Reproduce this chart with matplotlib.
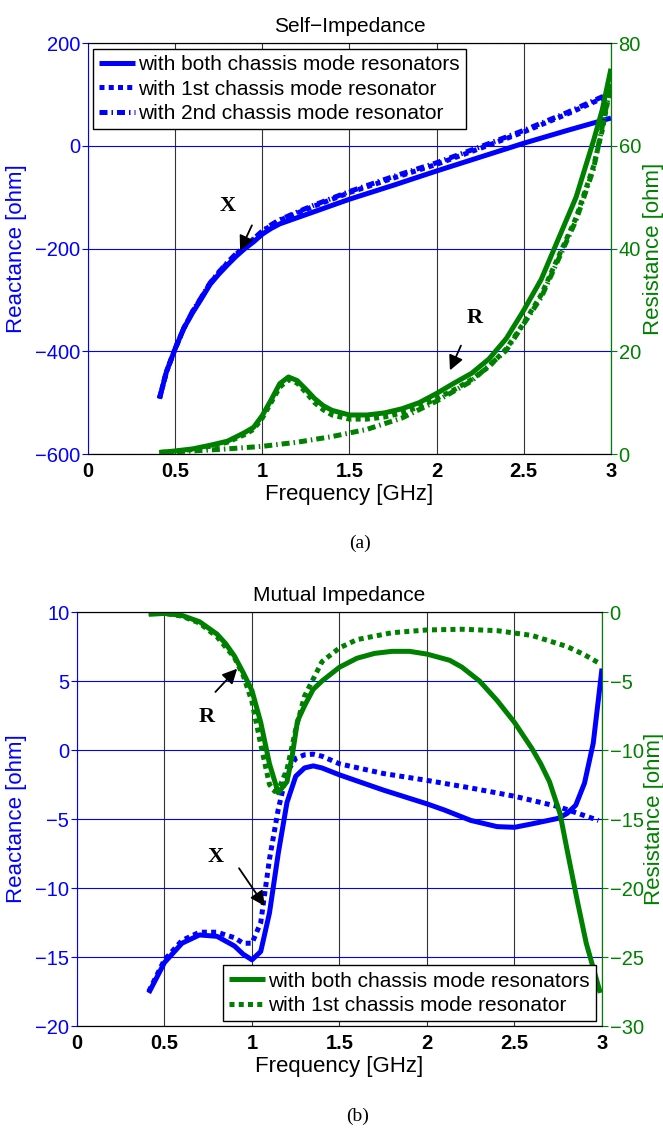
import matplotlib
matplotlib.use('Agg')
import matplotlib.pyplot as plt

plt.rcParams['font.family'] = 'Liberation Sans'

BLUE = '#0000ff'
GREEN = '#008000'

# ---------------- data: self impedance (a) ----------------
f_self_x = [0.41, 0.45, 0.5, 0.55, 0.6, 0.65, 0.7, 0.75, 0.8, 0.85, 0.9, 0.95, 1.0, 1.05,
            1.1, 1.2, 1.3, 1.4, 1.5, 1.75, 2.0, 2.25, 2.5, 2.75, 3.0]
x_self_both = [-492, -440, -395, -355, -325, -298, -270, -250, -232, -215, -200, -187, -172, -161,
               -152, -140, -128, -116, -104, -77, -49, -22, 5, 30, 54]
x_self_1st = [-492, -440, -395, -355, -323, -296, -268, -247, -228, -211, -196, -182, -167, -155,
              -145, -131, -117, -104, -91, -63, -36, -5, 27, 62, 100]
x_self_2nd = [-492, -440, -395, -355, -322, -295, -267, -246, -227, -210, -195, -181, -166, -154,
              -144, -129, -115, -102, -89, -60, -33, -2, 30, 65, 103]

f_self_r = [0.41, 0.5, 0.6, 0.7, 0.8, 0.9, 0.95, 1.0, 1.05, 1.1, 1.15, 1.2, 1.25, 1.3, 1.35, 1.4,
            1.5, 1.6, 1.7, 1.8, 1.9, 2.0, 2.1, 2.2, 2.3, 2.4, 2.5, 2.6, 2.7, 2.8, 2.9, 2.95, 3.0]
r_self_both = [0.3, 0.6, 1.0, 1.7, 2.5, 4.2, 5.2, 7.5, 10.5, 13.7, 15.0, 14.3, 12.6, 10.8, 9.4, 8.5,
               7.6, 7.6, 8.0, 8.8, 10.0, 11.8, 13.8, 15.7, 18.5, 22.5, 28, 34, 42, 50, 61, 67, 75]
r_self_1st = [0.3, 0.5, 0.9, 1.5, 2.3, 3.8, 4.8, 7.0, 10.0, 13.0, 14.5, 13.8, 12.0, 10.0, 8.6, 7.6,
              6.8, 6.8, 7.2, 8.0, 9.2, 10.8, 12.5, 14.5, 17.0, 20.5, 25.5, 31, 38.5, 46, 56, 63, 72]
f_self_r2 = [0.41, 0.6, 0.8, 1.0, 1.2, 1.4, 1.6, 1.8, 2.0, 2.2, 2.4, 2.6, 2.8, 2.9, 3.0]
r_self_2nd = [0.3, 0.6, 1.0, 1.5, 2.3, 3.4, 4.8, 7.0, 10.3, 14.2, 20.2, 30.5, 45.5, 55.5, 72]

# ---------------- data: mutual impedance (b) ----------------
f_mut_x = [0.41, 0.5, 0.6, 0.7, 0.8, 0.9, 0.95, 1.0, 1.05, 1.1, 1.15, 1.2, 1.25, 1.3, 1.35, 1.4,
           1.5, 1.75, 2.0, 2.1, 2.25, 2.4, 2.5, 2.6, 2.75, 2.8, 2.85, 2.9, 2.95, 3.0]
x_mut_both = [-17.6, -15.4, -14.0, -13.4, -13.5, -14.2, -14.8, -15.2, -14.6, -11.8, -7.5, -3.8,
              -1.9, -1.3, -1.15, -1.3, -1.8, -2.9, -3.9, -4.35, -5.1, -5.55, -5.6, -5.35, -4.95,
              -4.6, -4.0, -2.4, 0.5, 5.9]
f_mut_x1 = [0.41, 0.5, 0.6, 0.7, 0.8, 0.9, 0.95, 1.0, 1.05, 1.1, 1.15, 1.2, 1.25, 1.3, 1.35, 1.4,
            1.5, 1.75, 2.0, 2.25, 2.5, 2.75, 2.98]
x_mut_1st = [-17.5, -15.2, -13.8, -13.2, -13.2, -13.6, -14.0, -14.0, -12.5, -7.9, -4.3, -1.6,
             -0.6, -0.35, -0.3, -0.45, -1.0, -1.7, -2.2, -2.75, -3.35, -4.1, -5.1]

f_mut_r = [0.41, 0.5, 0.6, 0.7, 0.8, 0.85, 0.9, 0.95, 1.0, 1.05, 1.1, 1.15, 1.2, 1.23, 1.26, 1.3,
           1.35, 1.4, 1.5, 1.6, 1.7, 1.8, 1.9, 2.0, 2.13, 2.2, 2.3, 2.4, 2.5, 2.6, 2.65, 2.7, 2.76,
           2.8, 2.86, 2.91, 2.99]
r_mut_both = [-0.17, -0.1, -0.25, -0.7, -1.6, -2.3, -3.2, -4.4, -5.7, -8.0, -11.0, -13.1, -12.3,
              -10.4, -7.9, -6.8, -5.6, -5.0, -4.0, -3.35, -3.0, -2.85, -2.85, -3.05, -3.5, -4.0,
              -5.0, -6.4, -8.0, -9.9, -11.0, -12.3, -14.6, -17.2, -21.0, -24.0, -27.6]
f_mut_r1 = [0.41, 0.5, 0.6, 0.7, 0.8, 0.9, 0.95, 1.0, 1.05, 1.1, 1.13, 1.16, 1.2, 1.25, 1.3, 1.4,
            1.5, 1.6, 1.8, 2.0, 2.2, 2.4, 2.6, 2.7, 2.8, 2.9, 2.99]
r_mut_1st = [-0.1, -0.1, -0.3, -0.8, -1.8, -3.3, -4.6, -6.5, -9.6, -12.5, -13.0, -12.6, -11.4,
             -8.5, -6.1, -3.6, -2.6, -2.0, -1.5, -1.3, -1.25, -1.35, -1.7, -2.1, -2.5, -3.1, -3.75]

freq_ticks = [0, 0.5, 1, 1.5, 2, 2.5, 3]
freq_labels = ['0', '0.5', '1', '1.5', '2', '2.5', '3']
labels = ['with both chassis mode resonators', 'with 1st chassis mode resonator',
          'with 2nd chassis mode resonator']

LW = 3.6
DOT = (0, (1, 0.85))
DASHDOT = (0, (1.6, 0.8, 0.3, 0.8))


def style_axes(ax, ax2, ylim, yticks, ylim2, yticks2):
    ax.set_xlim(0, 3)
    ax.set_ylim(*ylim)
    ax.set_yticks(yticks)
    ax.set_xticks(freq_ticks)
    ax.set_xticklabels(freq_labels, fontweight='bold')
    ax.tick_params(axis='x', direction='in', length=0, labelsize=14.5, pad=6)
    ax.tick_params(axis='y', direction='out', length=4, pad=1.5, colors=BLUE, labelsize=14.5)
    ax.spines['left'].set_color(BLUE)
    ax.xaxis.grid(True, color='#333333', lw=0.8)
    ax.yaxis.grid(True, color=BLUE, lw=0.8)
    ax.set_axisbelow(True)
    ax.set_xlabel('Frequency [GHz]', fontsize=16, labelpad=2)
    ax.set_ylabel('Reactance [ohm]', fontsize=16, color=BLUE)

    ax2.set_ylim(*ylim2)
    ax2.set_yticks(yticks2)
    ax2.tick_params(axis='y', direction='out', length=4, pad=1.5, colors=GREEN, labelsize=14.5)
    ax2.spines['right'].set_color(GREEN)
    ax2.spines['left'].set_visible(False)
    ax2.set_ylabel('Resistance [ohm]', fontsize=16, color=GREEN)


fig = plt.figure(figsize=(6.63, 11.3), dpi=100)

# ---------------- (a) Self-Impedance ----------------
ax = fig.add_axes([0.1327, 0.5982, 0.7888, 0.3637])
ax2 = ax.twinx()
style_axes(ax, ax2, (-600, 200), [-600, -400, -200, 0, 200], (0, 80), [0, 20, 40, 60, 80])

h1, = ax.plot(f_self_x, x_self_both, color=BLUE, lw=LW, solid_capstyle='butt')
h2, = ax.plot(f_self_x, x_self_1st, color=BLUE, lw=LW, ls=DOT)
h3, = ax.plot(f_self_x, x_self_2nd, color=BLUE, lw=LW, ls=DASHDOT)
ax2.plot(f_self_r, r_self_both, color=GREEN, lw=LW, solid_capstyle='butt')
ax2.plot(f_self_r, r_self_1st, color=GREEN, lw=LW, ls=DOT)
ax2.plot(f_self_r2, r_self_2nd, color=GREEN, lw=LW, ls=DASHDOT)

ax.set_title('Self\u2212Impedance', fontsize=15, pad=8)
ax.yaxis.set_label_coords(-0.117, 0.5)
ax2.yaxis.set_label_coords(1.061, 0.5)

leg = ax.legend([h1, h2, h3], labels, loc='upper left', bbox_to_anchor=(0.0096, 0.985),
                borderaxespad=0, fontsize=15, fancybox=False, framealpha=1, edgecolor='black',
                handlelength=1.7, handletextpad=0.15, labelspacing=0.25, borderpad=0.3)
leg.get_frame().set_linewidth(1.0)

arrow = dict(arrowstyle='-|>', color='black', lw=1.3, mutation_scale=22)
ax.annotate('', xy=(0.866, -209), xytext=(0.947, -150), arrowprops=arrow)
ax.text(0.80, -117, 'X', fontsize=16, fontweight='bold', family='Liberation Serif',
        ha='center', va='center')
ax2.annotate('', xy=(2.07, 15.8), xytext=(2.146, 21.6), arrowprops=arrow)
ax2.text(2.22, 26.5, 'R', fontsize=16, fontweight='bold', family='Liberation Serif',
         ha='center', va='center')

fig.text(360 / 663, 1 - 543 / 1130, '(a)', fontsize=14, family='Liberation Serif',
         ha='center', va='center')

# ---------------- (b) Mutual Impedance ----------------
bx = fig.add_axes([0.1161, 0.0920, 0.7919, 0.3664])
bx2 = bx.twinx()
style_axes(bx, bx2, (-20, 10), [-20, -15, -10, -5, 0, 5, 10], (-30, 0),
           [-30, -25, -20, -15, -10, -5, 0])

bx.plot(f_mut_x, x_mut_both, color=BLUE, lw=LW, solid_capstyle='butt')
bx.plot(f_mut_x1, x_mut_1st, color=BLUE, lw=LW, ls=DOT)
g1, = bx2.plot(f_mut_r, r_mut_both, color=GREEN, lw=LW, solid_capstyle='butt')
g2, = bx2.plot(f_mut_r1, r_mut_1st, color=GREEN, lw=LW, ls=DOT)

bx.set_title('Mutual Impedance', fontsize=15, pad=8)
bx.yaxis.set_label_coords(-0.095, 0.5)
bx2.yaxis.set_label_coords(1.08, 0.5)

leg2 = bx2.legend([g1, g2], labels[:2], loc='lower right', bbox_to_anchor=(0.988, 0.012),
                  borderaxespad=0, fontsize=15, fancybox=False, framealpha=1, edgecolor='black',
                  handlelength=1.7, handletextpad=0.15, labelspacing=0.25, borderpad=0.3)
leg2.get_frame().set_linewidth(1.0)

bx.annotate('', xy=(0.926, 6.04), xytext=(0.78, 4.06), arrowprops=arrow)
bx.text(0.743, 2.41, 'R', fontsize=16, fontweight='bold', family='Liberation Serif',
        ha='center', va='center')
bx.annotate('', xy=(1.082, -11.47), xytext=(0.917, -8.4), arrowprops=arrow)
bx.text(0.79, -7.73, 'X', fontsize=16, fontweight='bold', family='Liberation Serif',
        ha='center', va='center')

fig.text(358 / 663, 1 - 1116 / 1130, '(b)', fontsize=14, family='Liberation Serif',
         ha='center', va='center')

fig.savefig('out.png', dpi=100)
